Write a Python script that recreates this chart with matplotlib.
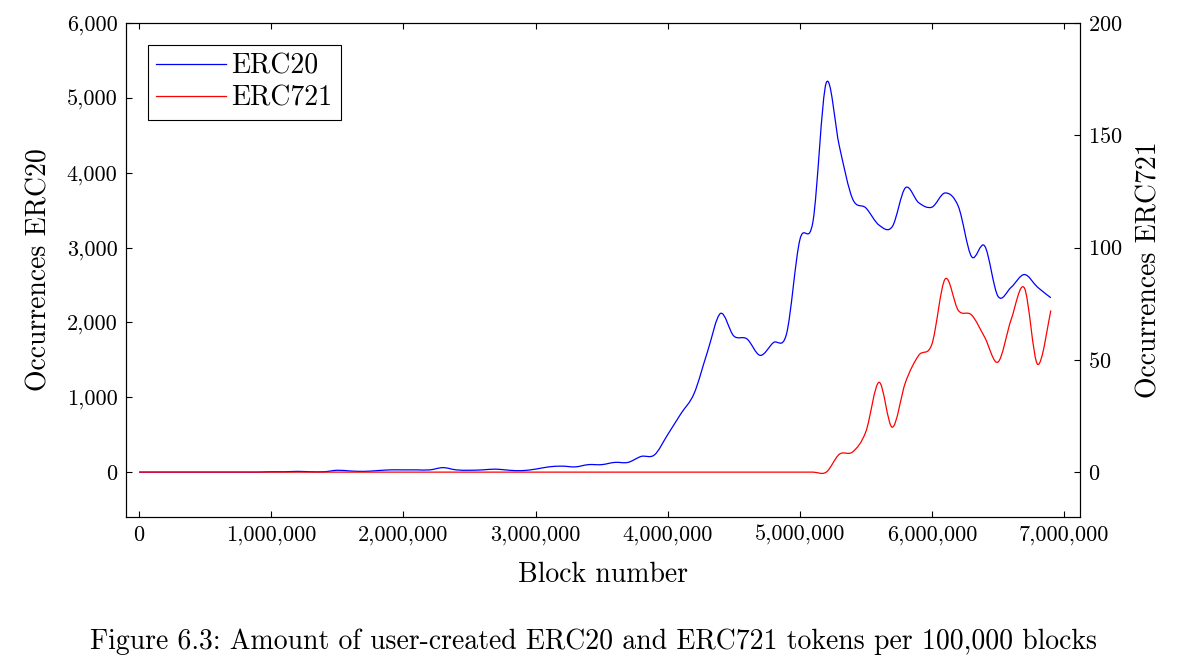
import matplotlib
matplotlib.use("Agg")
import matplotlib.pyplot as plt
from matplotlib.path import Path
from matplotlib.patches import PathPatch
from matplotlib.lines import Line2D
from matplotlib.ticker import FuncFormatter
import numpy as np

plt.rcParams['font.family'] = ['cmr10', 'DejaVu Serif']
plt.rcParams['mathtext.fontset'] = 'cm'
plt.rcParams['axes.formatter.use_mathtext'] = True

blocks = [i * 100000 for i in range(70)]
erc20 = [0]*10 + [5, 5, 10, 5, 5, 25, 15, 10, 20, 30, 30, 30, 30, 60, 30, 25, 30, 40, 25, 20,
         40, 70, 80, 70, 100, 100, 130, 130, 210, 230, 500, 780, 1050, 1600, 2120, 1820, 1780, 1560, 1730, 1850,
         3100, 3350, 5200, 4350, 3650, 3530, 3300, 3280, 3800, 3600, 3540, 3730, 3550, 2880, 3020, 2350, 2470, 2640, 2470, 2330]
erc721 = [0]*52 + [0, 8, 9, 18, 40, 20, 40, 52, 57, 86, 72, 70, 60, 49, 68, 82, 48, 72]

def smooth_path(xs, ys, t=0.5):
    xs = np.asarray(xs, float); ys = np.asarray(ys, float)
    verts = [(xs[0], ys[0])]; codes = [Path.MOVETO]
    n = len(xs)
    for i in range(n - 1):
        p0 = np.array([xs[max(i-1, 0)], ys[max(i-1, 0)]])
        p1 = np.array([xs[i], ys[i]]); p2 = np.array([xs[i+1], ys[i+1]])
        p3 = np.array([xs[min(i+2, n-1)], ys[min(i+2, n-1)]])
        c1 = p1 + (p2 - p0) * t / 3
        c2 = p2 - (p3 - p1) * t / 3
        verts += [tuple(c1), tuple(c2), tuple(p2)]
        codes += [Path.CURVE4] * 3
    return Path(verts, codes)

fig = plt.figure(figsize=(11.88, 6.68), dpi=100)
ax = fig.add_axes([0.106, 0.226, 0.803, 0.7395])
ax2 = ax.twinx()

ax.add_patch(PathPatch(smooth_path(blocks, erc20), fill=False, edgecolor='blue', lw=0.9))
ax2.add_patch(PathPatch(smooth_path(blocks, erc721), fill=False, edgecolor='red', lw=0.9))

ax.set_xlim(-100000, 7120000)
ax.set_ylim(-600, 6000)
ax2.set_ylim(-20, 200)
ax.set_xticks(range(0, 7000001, 1000000))
ax.set_yticks(range(0, 6001, 1000))
ax2.set_yticks(range(0, 201, 50))
fmt = FuncFormatter(lambda v, p: f"{int(v):,}")
ax.xaxis.set_major_formatter(fmt)
ax.yaxis.set_major_formatter(fmt)
for a in (ax, ax2):
    a.tick_params(labelsize=16, direction='in', length=4, pad=6)
ax.tick_params(top=True)
ax.set_xlabel("Block number", fontsize=20, labelpad=12)
ax.set_ylabel("Occurrences ERC20", fontsize=20, labelpad=10)
ax2.set_ylabel("Occurrences ERC721", fontsize=20, labelpad=10)

handles = [Line2D([], [], color='blue', lw=0.9), Line2D([], [], color='red', lw=0.9)]
leg = ax.legend(handles, ["ERC20", "ERC721"], loc='upper left', fontsize=20, fancybox=False,
                edgecolor='black', framealpha=1, handlelength=2.5, handletextpad=0.2,
                borderaxespad=0.8, borderpad=0.3, labelspacing=0.2)
leg.get_frame().set_linewidth(0.8)

fig.text(0.5, 0.04, "Figure 6.3: Amount of user-created ERC20 and ERC721 tokens per 100,000 blocks",
         ha='center', va='center', fontsize=20)
fig.savefig("out.png", dpi=100)
